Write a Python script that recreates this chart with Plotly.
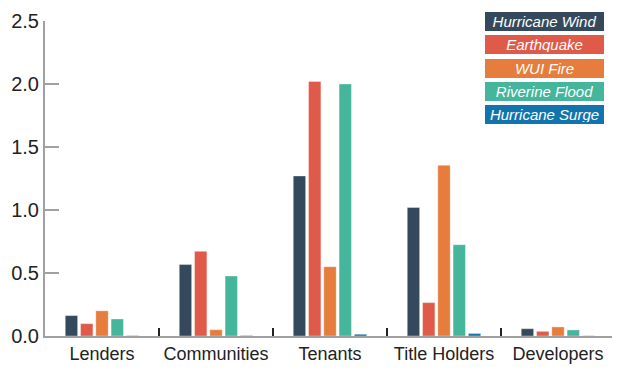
import plotly.graph_objects as go

categories = ["Lenders", "Communities", "Tenants", "Title Holders", "Developers"]
series_names = ["Hurricane Wind", "Earthquake", "WUI Fire", "Riverine Flood", "Hurricane Surge"]
hurricane_wind = [0.162, 0.567, 1.27, 1.02, 0.058]
earthquake = [0.098, 0.672, 2.02, 0.265, 0.037]
wui_fire = [0.20, 0.05, 0.55, 1.355, 0.072]
riverine_flood = [0.135, 0.476, 2.00, 0.725, 0.048]
hurricane_surge = [0.003, 0.004, 0.014, 0.02, 0.002]
y_ticks = [0.0, 0.5, 1.0, 1.5, 2.0, 2.5]

series_values = [hurricane_wind, earthquake, wui_fire, riverine_flood, hurricane_surge]
colors = ["#344a5c", "#e05a49", "#e67d3c", "#45b59b", "#1174ad"]

fig = go.Figure()
for name, vals, col in zip(series_names, series_values, colors):
    fig.add_trace(go.Bar(
        x=categories, y=vals, name=name, marker_color=col,
        marker_line=dict(width=1, color="rgba(255,255,255,0.35)"),
        showlegend=False,
    ))

# legend as coloured label boxes
legend_y = [0.998, 0.924, 0.850, 0.7755, 0.7016]
for name, col, yy in zip(series_names, colors, legend_y):
    fig.add_annotation(
        xref="paper", yref="paper", x=(544.5 - 45) / 570, y=yy,
        xanchor="center", yanchor="middle", text="<i>" + name + "</i>",
        showarrow=False, bgcolor=col, width=115, height=15, borderpad=2,
        borderwidth=0, font=dict(family="Liberation Sans", size=15, color="white"),
    )

# page body has an 8px margin; size the figure so the plot area lands in place
fig.update_layout(
    width=612, height=374,
    margin=dict(l=37, r=5, t=13, b=46),
    paper_bgcolor="white", plot_bgcolor="white",
    barmode="group", bargap=0.33, bargroupgap=0.19,
    font=dict(family="Liberation Sans", size=18, color="#222222"),
)
fig.update_xaxes(
    automargin=False, tickangle=0,
    showline=True, linecolor="#a0a0a0", linewidth=2,
    ticks="inside", tickson="boundaries", ticklen=8, tickwidth=2, tickcolor="#222222",
    tickfont=dict(family="Liberation Sans", size=18, color="#222222"), showgrid=False,
)
fig.update_yaxes(
    automargin=False,
    range=[0, 2.5], tickvals=y_ticks, ticktext=[f"{v:.1f}" for v in y_ticks],
    showline=True, linecolor="#a0a0a0", linewidth=2,
    ticks="inside", ticklen=14, tickwidth=2, tickcolor="#a0a0a0",
    tickfont=dict(family="Liberation Sans", size=20, color="#222222"),
    showgrid=False, zeroline=False,
)

fig.write_html("out.html")
